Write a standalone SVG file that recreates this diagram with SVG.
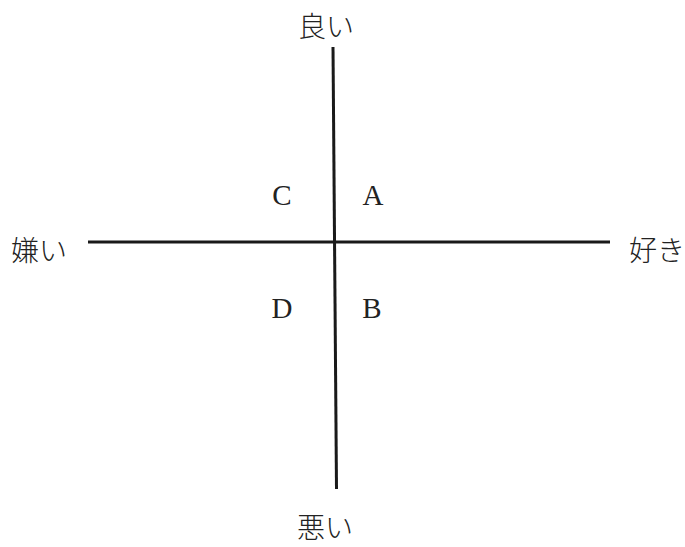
<svg xmlns="http://www.w3.org/2000/svg" width="685" height="547" viewBox="0 0 685 547">
<style>
.jp{font-family:"Noto Sans CJK JP","Noto Sans CJK SC",sans-serif;font-size:28px;font-weight:300;fill:#222;}
.lt{font-family:"Liberation Serif","DejaVu Serif",serif;font-size:29px;fill:#222;text-anchor:middle;}
.ax{stroke:#1a1a1a;stroke-width:3;fill:none;}
</style>
<rect width="685" height="547" fill="#fff"/>
<g id="connectors">
<line class="ax" x1="333" y1="47" x2="336.5" y2="489"/>
<line class="ax" x1="88" y1="242" x2="610" y2="242"/>
</g>
<g id="top"><text class="jp" x="326" y="37" text-anchor="middle">良い</text></g>
<g id="bottom"><text class="jp" x="325" y="538" text-anchor="middle">悪い</text></g>
<g id="left"><text class="jp" x="11" y="261">嫌い</text></g>
<g id="right"><text class="jp" x="629" y="261">好き</text></g>
<g id="A"><text class="lt" x="373" y="205">A</text></g>
<g id="C"><text class="lt" x="282" y="205">C</text></g>
<g id="D"><text class="lt" x="282" y="318">D</text></g>
<g id="B"><text class="lt" x="372" y="318">B</text></g>
</svg>
